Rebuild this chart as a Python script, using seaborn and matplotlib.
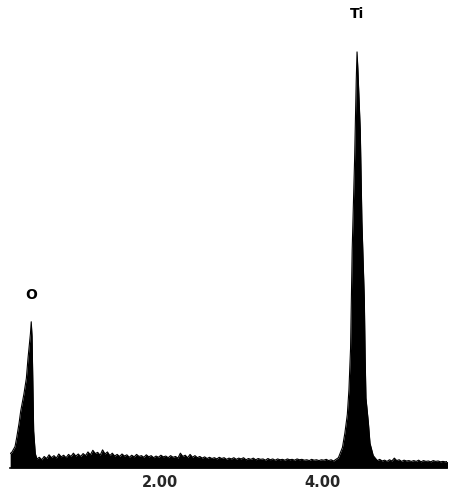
import matplotlib
matplotlib.use("Agg")
import matplotlib.pyplot as plt
import numpy as np
import pandas as pd
import seaborn as sns

# EDS spectrum (energy in keV, counts normalised to Ti = 100)
energy_o = [0.15, 0.17, 0.19, 0.21, 0.23, 0.26, 0.28, 0.32, 0.35, 0.37,
            0.40, 0.41, 0.42, 0.43, 0.44, 0.46, 0.48]
counts_o = [2.5, 2.8, 3.5, 4.2, 6.3, 9.9, 12.8, 17.0, 20.8, 25.6,
            31.6, 34.5, 31.0, 20.0, 8.0, 2.5, 1.2]

energy_bg1 = [0.51, 0.54, 0.57, 0.60, 0.63, 0.66, 0.69, 0.72, 0.75, 0.78,
              0.81, 0.84, 0.87, 0.90, 0.93, 0.96, 0.99, 1.02, 1.05, 1.08,
              1.11, 1.14, 1.17, 1.20, 1.23, 1.26, 1.29, 1.32, 1.35, 1.38,
              1.41, 1.44, 1.47, 1.50, 1.53, 1.56, 1.59, 1.62, 1.65, 1.68,
              1.71, 1.74, 1.77, 1.80, 1.83, 1.86, 1.89, 1.92, 1.95, 1.98,
              2.01, 2.04, 2.07, 2.10, 2.13, 2.16, 2.19, 2.22, 2.25, 2.28,
              2.31, 2.34, 2.37, 2.40, 2.43, 2.46, 2.49, 2.52, 2.55, 2.58,
              2.61, 2.64, 2.67, 2.70, 2.73, 2.76, 2.79, 2.82, 2.85, 2.88,
              2.91, 2.94, 2.97, 3.00, 3.03, 3.06, 3.09, 3.12, 3.15, 3.18,
              3.21, 3.24, 3.27, 3.30, 3.33, 3.36, 3.39, 3.42, 3.45, 3.48,
              3.51, 3.54, 3.57, 3.60, 3.63, 3.66, 3.69, 3.72, 3.75, 3.78,
              3.81, 3.84, 3.87, 3.90, 3.93, 3.96, 3.99, 4.02, 4.05, 4.08,
              4.11, 4.14]
counts_bg1 = [1.6, 1.0, 1.8, 1.3, 2.2, 1.5, 2.0, 1.4, 2.4, 1.7,
              2.1, 1.5, 2.3, 1.8, 2.6, 1.9, 2.4, 1.8, 2.5, 2.0,
              2.9, 2.2, 3.3, 2.5, 2.8, 2.1, 3.4, 2.4, 2.9, 2.0,
              2.6, 1.9, 2.3, 1.8, 2.4, 1.9, 2.2, 1.6, 2.1, 1.7,
              2.3, 1.8, 2.0, 1.6, 2.2, 1.7, 2.0, 1.5, 1.9, 1.6,
              2.1, 1.7, 1.9, 1.5, 2.0, 1.6, 1.8, 1.4, 2.6, 1.8,
              2.1, 1.5, 2.3, 1.6, 2.0, 1.5, 1.8, 1.4, 1.7, 1.3,
              1.6, 1.3, 1.5, 1.2, 1.6, 1.3, 1.5, 1.1, 1.4, 1.2,
              1.5, 1.1, 1.4, 1.2, 1.5, 1.0, 1.3, 1.1, 1.4, 1.0,
              1.3, 1.1, 1.2, 0.9, 1.3, 1.0, 1.2, 0.9, 1.2, 1.0,
              1.1, 0.9, 1.2, 1.0, 1.1, 0.9, 1.2, 1.0, 1.1, 0.9,
              1.0, 0.8, 1.1, 0.9, 1.0, 0.8, 1.0, 0.9, 1.1, 0.8,
              1.0, 0.7]

energy_ti = [4.20, 4.25, 4.28, 4.31, 4.33, 4.35, 4.37, 4.40, 4.42, 4.43,
             4.44, 4.47, 4.49, 4.52, 4.53, 4.54, 4.57, 4.59, 4.63, 4.68]
counts_ti = [1.5, 4.0, 7.5, 12.0, 18.0, 28.0, 52.0, 74.0, 93.0, 100.0,
             96.0, 81.0, 59.0, 40.0, 26.0, 16.0, 10.0, 5.0, 2.0, 0.8]

energy_bg2 = [4.71, 4.74, 4.77, 4.80, 4.83, 4.86, 4.89, 4.92, 4.95, 4.98,
              5.01, 5.04, 5.07, 5.10, 5.13, 5.16, 5.19, 5.22, 5.25, 5.28,
              5.31, 5.34, 5.37, 5.40, 5.43, 5.46, 5.49, 5.52, 5.55]
counts_bg2 = [1.1, 0.7, 0.9, 0.6, 1.0, 0.7, 1.4, 0.8, 1.0, 0.6,
              0.9, 0.7, 0.8, 0.6, 0.8, 0.6, 0.9, 0.5, 0.8, 0.6,
              0.7, 0.5, 0.8, 0.6, 0.7, 0.5, 0.6, 0.5, 0.6]

peak_labels = ["O", "Ti"]
peak_energy = [0.41, 4.43]
peak_counts = [34.5, 100.0]
label_offset_pt = [19, 27]  # gap between peak tip and label centre

tick_values = [2.0, 4.0]
tick_labels = ["2.00", "4.00"]

df = pd.DataFrame({
    "energy": energy_o + energy_bg1 + energy_ti + energy_bg2,
    "counts": counts_o + counts_bg1 + counts_ti + counts_bg2,
})

sns.set_style("white")

fig = plt.figure(figsize=(4.51, 4.92), dpi=100)
ax = fig.add_axes([10 / 451, 24 / 492, 437 / 451, 468 / 492])

ax.fill_between(df["energy"], df["counts"], -1, color="black", linewidth=0)
sns.lineplot(data=df, x="energy", y="counts", color="black", linewidth=0.8, ax=ax)

for lab, e, c, off in zip(peak_labels, peak_energy, peak_counts, label_offset_pt):
    ax.annotate(lab, (e, c), xytext=(0, off), textcoords="offset points",
                ha="center", va="center", fontsize=10, fontweight="bold",
                color="black", annotation_clip=False)

ax.set_xlim(0.148, 5.54)
ax.set_ylim(-1, 112.6)
ax.set_xticks(tick_values)
ax.set_xticklabels(tick_labels, fontsize=10.5, fontweight="bold")
ax.set_yticks([])
ax.tick_params(axis="x", length=0, pad=5)
ax.set_xlabel("")
ax.set_ylabel("")
for side in ["top", "left", "right"]:
    ax.spines[side].set_visible(False)
ax.spines["bottom"].set_color("black")
ax.spines["bottom"].set_linewidth(1.2)

fig.savefig("out.png", dpi=100)
